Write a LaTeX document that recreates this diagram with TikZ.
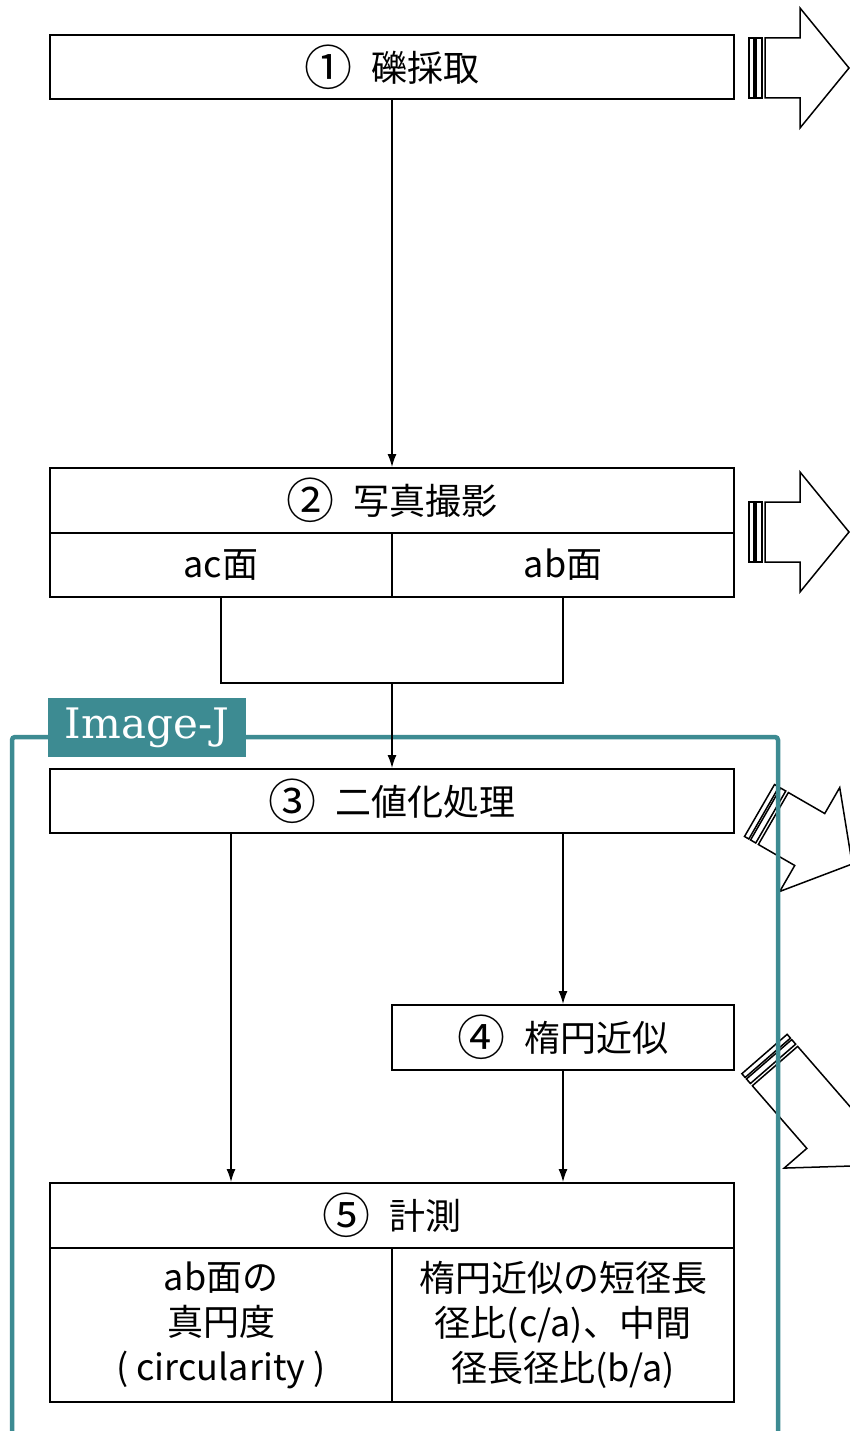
\documentclass[tikz,border=0pt]{standalone}
\usepackage{fontspec}
\setmainfont{Noto Sans CJK JP}
\newfontfamily\labelfont{DejaVu Serif}
\usetikzlibrary{arrows.meta,calc}
\definecolor{teal2}{RGB}{61,139,146}
\newcommand\circnum[1]{\raisebox{-4pt}{\fontsize{48}{48}\selectfont #1}\hspace{0.55em}}
\tikzset{
  box/.style={draw, line width=1.8pt, inner sep=0pt, minimum height=64pt, align=center, font=\fontsize{36}{45}\selectfont},
  wide/.style={minimum width=684pt},
  half/.style={minimum width=342pt},
  conn/.style={line width=1.6pt},
  arr/.style={conn, -{Latex[length=13pt,width=9pt]}},
  blockarrow/.style={draw, line width=1.5pt, fill=white, line join=miter},
  frame/.style={draw=teal2, line width=4.5pt, rounded corners=3pt},
  tag/.style={fill=teal2, text=white, minimum width=198pt, minimum height=59pt, inner sep=0pt, font=\labelfont\fontsize{42}{46}\selectfont},
}
\newcommand\stripedarrow[4]{%
  \begin{scope}[shift={(#1,#2)}, rotate=#3]
    \draw[blockarrow] (0,-30) rectangle (5,30);
    \draw[blockarrow] (7,-30) rectangle (13,30);
    \draw[blockarrow] (16,-30) -- ({16+#4},-30) -- ({16+#4},-60) -- ({65+#4},0) -- ({16+#4},60) -- ({16+#4},30) -- (16,30) -- cycle;
  \end{scope}}
\begin{document}
\begin{tikzpicture}[x=1pt,y=-1pt]
\useasboundingbox (0,0) rectangle (850,1431);
% block arrows and Image-J frame
\begin{scope}
  \clip (0,0) rectangle (850,1431);
  \stripedarrow{749}{68}{0}{35}
  \stripedarrow{749}{532}{0}{35}
  \stripedarrow{759.5}{810.5}{-30}{42}
  \stripedarrow{764.5}{1054}{-49}{83}
  \draw[frame] (12,1450) -- (12,737) -- (778,737) -- (778,1450);
\end{scope}
\node[tag] (lbl) at (147,727.5) {Image-J};
% boxes
\node[box,wide] (n1) at (392,67) {\circnum{①}礫採取};
\node[box,wide,minimum height=65pt] (n2) at (392,500.5) {\circnum{②}写真撮影};
\node[box,half] (n2a) at (221,565) {ac面};
\node[box,half] (n2b) at (563,565) {ab面};
\node[box,wide] (n3) at (392,801) {\circnum{③}二値化処理};
\node[box,half,minimum height=65pt] (n4) at (563,1037.5) {\circnum{④}楕円近似};
\node[box,wide,minimum height=65pt] (n5) at (392,1215.5) {\circnum{⑤}計測};
\node[box,half,minimum height=154pt] (n5a) at (221,1325) {ab面の\\真円度\\( circularity )};
\node[box,half,minimum height=154pt] (n5b) at (563,1325) {楕円近似の短径長\\径比(c/a)、中間\\径長径比(b/a)};
% connectors
\coordinate (j) at (392,683);
\draw[arr] (n1.south) -- (n2.north);
\draw[conn] (n2a.south) |- (j) -| (n2b.south);
\draw[arr] (j) -- (n3.north);
\draw[arr] ([xshift=-161pt]n3.south) -- ([xshift=-161pt]n3.south |- n5.north);
\draw[arr] (n3.south -| n4.north) -- (n4.north);
\draw[arr] (n4.south) -- (n4.south |- n5.north);
\end{tikzpicture}
\end{document}
